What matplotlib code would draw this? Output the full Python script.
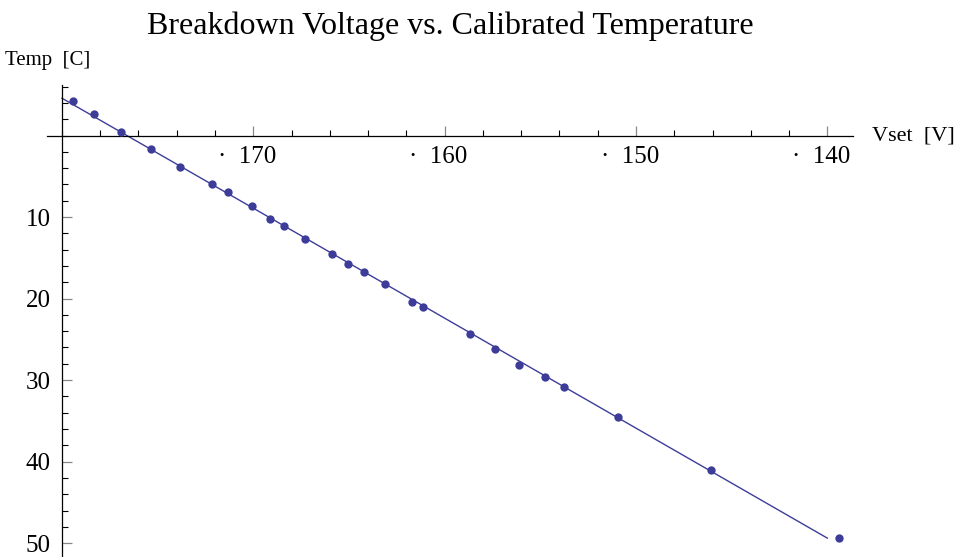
import matplotlib
matplotlib.use("Agg")
import matplotlib.pyplot as plt
import numpy as np

# calibration points
vset = [179.41, 178.31, 176.90, 175.36, 173.83, 172.17, 171.34, 170.08, 169.11,
        168.40, 167.28, 165.89, 165.05, 164.23, 163.10, 161.71, 161.15, 158.66,
        157.38, 156.13, 154.75, 153.78, 150.95, 146.09, 139.40]
temp = [-4.25, -2.66, -0.49, 1.63, 3.80, 5.96, 6.88, 8.70, 10.25,
        11.15, 12.70, 14.53, 15.76, 16.70, 18.26, 20.44, 20.99, 24.39,
        26.23, 28.10, 29.66, 30.83, 34.56, 41.05, 49.34]

fit_range = [140, 180]
x_major = [140, 150, 160, 170]
x_labels = ["\u00b7  140  ", "\u00b7  150  ", "\u00b7  160  ", "\u00b7  170  "]
y_major = [10, 20, 30, 40, 50]
y_labels = ["10", "20", "30", "40", "50"]

col = "#3d3d99"
plt.rcParams["font.family"] = ["Liberation Serif", "DejaVu Serif"]

fig = plt.figure(figsize=(9.6, 5.57), dpi=100)
ax = fig.add_axes([47 / 960, 0, 806 / 960, 472 / 557])

coef = np.polyfit(vset, temp, 1)
xs = np.array(fit_range, dtype=float)
ax.plot(xs, np.polyval(coef, xs), color=col, lw=1.0, zorder=2)
ax.plot(vset, temp, "o", color=col, ms=6, mew=0, zorder=3)

ax.set_xlim(180.78, 138.66)
ax.set_ylim(51.7, -6.2)

for s in ["top", "right"]:
    ax.spines[s].set_visible(False)
ax.spines["left"].set_position(("data", 180))
ax.spines["bottom"].set_position(("data", 0))
for s in ["left", "bottom"]:
    ax.spines[s].set_linewidth(0.9)

ax.set_xticks(x_major)
ax.set_xticklabels(x_labels)
ax.set_xticks(np.arange(142, 181, 2), minor=True)
ax.set_yticks(y_major)
ax.set_yticklabels(y_labels)
ax.set_yticks(np.arange(-6, 51, 2), minor=True)

ax.tick_params(which="major", direction="in", length=7, width=0.9,
               color="#888888", labelsize=18, pad=8)
ax.tick_params(which="minor", direction="in", length=4.3, width=0.8,
               color="black")
ax.tick_params(axis="x", which="major", pad=7.5)

fig.text(450 / 960, 1 - 26 / 557, "Breakdown Voltage vs. Calibrated Temperature",
         ha="center", va="center", fontsize=23)
fig.text(5 / 960, 1 - 60 / 557, "Temp  [C]", ha="left", va="center", fontsize=15)
fig.text(872 / 960, 1 - 136 / 557, "Vset  [V]", ha="left", va="center", fontsize=16)

fig.savefig("out.png", dpi=100)
